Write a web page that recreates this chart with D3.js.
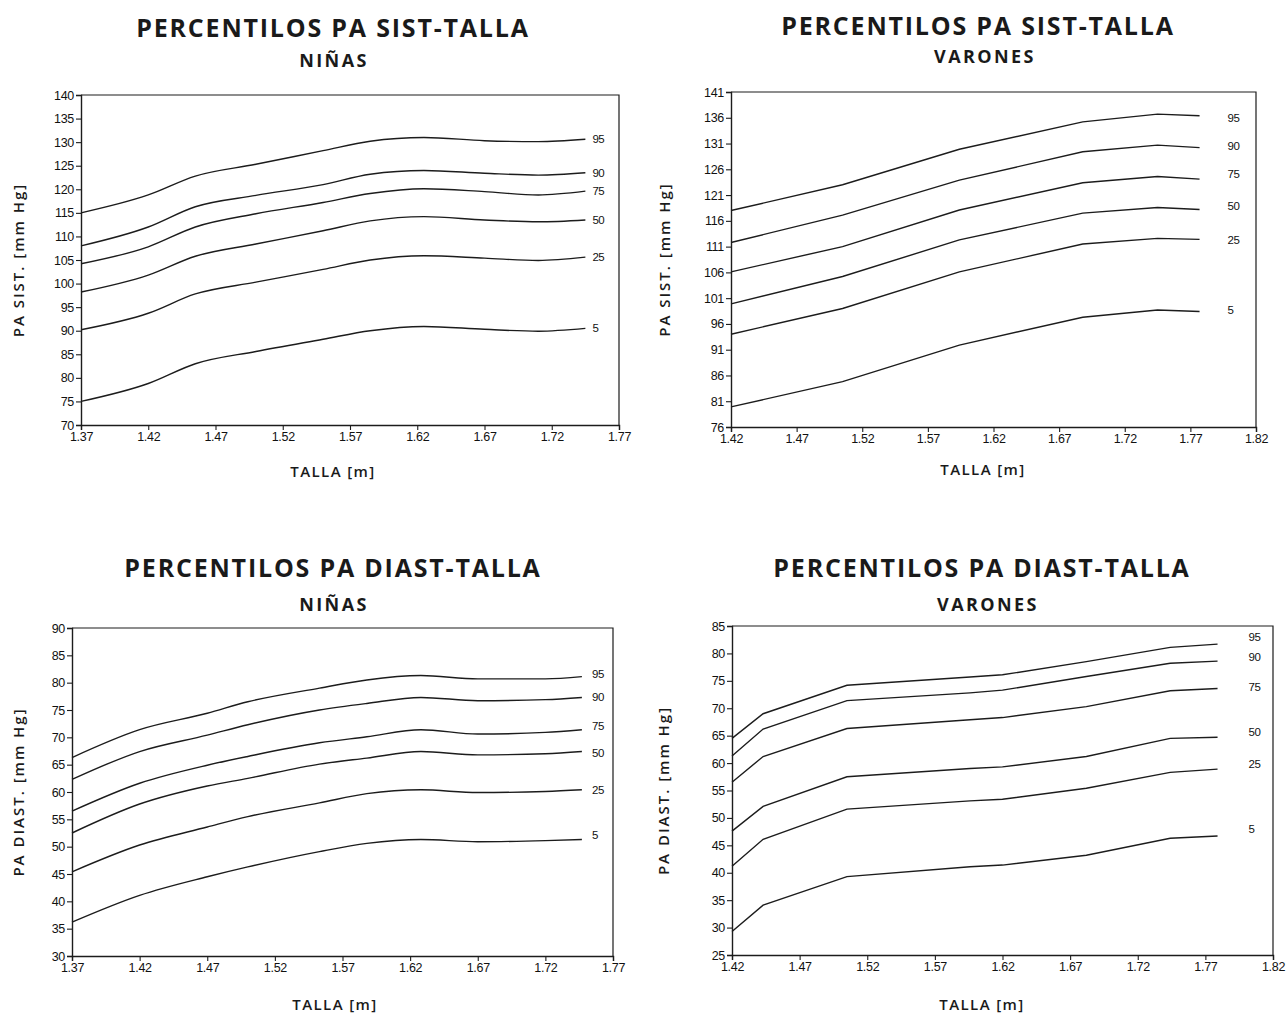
<!DOCTYPE html>
<html>
<head>
<meta charset="utf-8">
<script src="https://cdn.jsdelivr.net/npm/d3@7"></script>
<style>
  html, body { margin: 0; padding: 0; background: #fff; }
  svg { display: block; }
  .title { font-family: "Open Sans", sans-serif; font-weight: 700; fill: #1a1a1a; }
  .axis-title { font-family: "Open Sans", sans-serif; font-weight: 600; fill: #1a1a1a; }
  .tick text { font-family: "Liberation Sans", Arial, sans-serif; fill: #111; }
  .pct { font-family: "Liberation Sans", Arial, sans-serif; fill: #111; }
</style>
</head>
<body>
<script>
// Percentile labels, shared by all four charts (top to bottom)
const percentiles = ["95", "90", "75", "50", "25", "5"];

// Axis ticks
const ticksTallaNinas = [1.37, 1.42, 1.47, 1.52, 1.57, 1.62, 1.67, 1.72, 1.77];
const ticksTallaVarones = [1.42, 1.47, 1.52, 1.57, 1.62, 1.67, 1.72, 1.77, 1.82];
const ticksSistNinas = [70, 75, 80, 85, 90, 95, 100, 105, 110, 115, 120, 125, 130, 135, 140];
const ticksSistVarones = [76, 81, 86, 91, 96, 101, 106, 111, 116, 121, 126, 131, 136, 141];
const ticksDiastNinas = [30, 35, 40, 45, 50, 55, 60, 65, 70, 75, 80, 85, 90];
const ticksDiastVarones = [25, 30, 35, 40, 45, 50, 55, 60, 65, 70, 75, 80, 85];

// Systolic pressure, girls: heights (m) and one row per percentile (95 → 5)
const tallaSistNinas = [1.37, 1.42, 1.455, 1.50, 1.55, 1.585, 1.625, 1.67, 1.71, 1.745];
const sistNinas = [
  [115.0, 118.8, 122.8, 125.3, 128.2, 130.2, 131.0, 130.3, 130.1, 130.6],
  [108.0, 112.0, 116.3, 118.7, 121.0, 123.2, 124.0, 123.4, 123.0, 123.5],
  [104.2, 107.8, 112.0, 114.8, 117.2, 119.1, 120.1, 119.5, 118.8, 119.6],
  [98.2, 101.8, 105.8, 108.4, 111.2, 113.3, 114.2, 113.5, 113.1, 113.5],
  [90.2, 93.7, 97.8, 100.3, 103.0, 105.0, 105.9, 105.4, 104.9, 105.6],
  [75.0, 78.8, 83.0, 85.6, 88.2, 90.0, 90.9, 90.3, 89.9, 90.5]
];

// Systolic pressure, boys
const tallaSistVarones = [1.42, 1.505, 1.594, 1.688, 1.745, 1.777];
const sistVarones = [
  [118.0, 123.0, 129.9, 135.2, 136.7, 136.4],
  [111.8, 117.1, 123.9, 129.4, 130.7, 130.2],
  [106.1, 111.0, 118.1, 123.4, 124.6, 124.1],
  [99.9, 105.2, 112.3, 117.5, 118.6, 118.2],
  [94.0, 99.0, 106.1, 111.5, 112.6, 112.4],
  [79.9, 84.8, 91.9, 97.3, 98.7, 98.4]
];
const sistVaronesEtiquetas = [136.0, 130.6, 125.0, 118.8, 112.3, 98.8];

// Diastolic pressure, girls
const tallaDiastNinas = [1.37, 1.42, 1.47, 1.50, 1.553, 1.588, 1.628, 1.67, 1.72, 1.747];
const diastNinas = [
  [66.3, 71.4, 74.4, 76.5, 79.0, 80.5, 81.3, 80.7, 80.7, 81.1],
  [62.3, 67.4, 70.4, 72.3, 75.0, 76.2, 77.3, 76.7, 76.9, 77.3],
  [56.5, 61.6, 64.9, 66.5, 69.0, 70.1, 71.4, 70.6, 70.9, 71.4],
  [52.5, 57.8, 61.1, 62.5, 65.1, 66.2, 67.4, 66.8, 67.0, 67.4],
  [45.4, 50.3, 53.6, 55.5, 58.0, 59.7, 60.4, 59.9, 60.1, 60.4],
  [36.2, 41.1, 44.5, 46.3, 49.1, 50.6, 51.3, 50.9, 51.1, 51.3]
];
const diastNinasEtiquetas = [81.6, 77.3, 72.1, 67.2, 60.4, 52.1];

// Diastolic pressure, boys
const tallaDiastVarones = [1.42, 1.443, 1.505, 1.596, 1.62, 1.682, 1.744, 1.779];
const diastVarones = [
  [64.5, 69.0, 74.2, 75.7, 76.1, 78.5, 81.1, 81.7],
  [61.3, 66.2, 71.4, 72.8, 73.3, 75.8, 78.2, 78.6],
  [56.5, 61.2, 66.3, 67.9, 68.3, 70.3, 73.2, 73.6],
  [47.6, 52.1, 57.5, 59.0, 59.3, 61.2, 64.5, 64.7],
  [41.2, 46.1, 51.6, 53.1, 53.4, 55.4, 58.3, 58.9],
  [29.3, 34.1, 39.3, 41.1, 41.4, 43.2, 46.3, 46.7]
];
const diastVaronesEtiquetas = [83.0, 79.4, 73.8, 65.7, 59.8, 47.9];

const W = 1287, H = 1013;
const svg = d3.select("body").append("svg").attr("width", W).attr("height", H);

const panels = [
  {
    title: "PERCENTILOS PA SIST-TALLA", sub: "NIÑAS", yTitle: "PA SIST. [mm Hg]",
    x: tallaSistNinas, series: sistNinas, labels: null,
    xTicks: ticksTallaNinas, yTicks: ticksSistNinas,
    left: 81, right: 619, top: 95, bottom: 425,
    titleX: 333, subX: 334, titleY: 37, subY: 67, xTitleX: 333, xTitleY: 477, yTitleX: 24,
    labelDx: 7, curve: d3.curveMonotoneX
  },
  {
    title: "PERCENTILOS PA SIST-TALLA", sub: "VARONES", yTitle: "PA SIST. [mm Hg]",
    x: tallaSistVarones, series: sistVarones, labels: sistVaronesEtiquetas,
    xTicks: ticksTallaVarones, yTicks: ticksSistVarones,
    left: 731, right: 1256, top: 92, bottom: 427,
    titleX: 978, subX: 985, titleY: 35, subY: 63, xTitleX: 983, xTitleY: 475, yTitleX: 670,
    labelDx: 28, curve: d3.curveLinear
  },
  {
    title: "PERCENTILOS PA DIAST-TALLA", sub: "NIÑAS", yTitle: "PA DIAST. [mm Hg]",
    x: tallaDiastNinas, series: diastNinas, labels: diastNinasEtiquetas,
    xTicks: ticksTallaNinas, yTicks: ticksDiastNinas,
    left: 72, right: 613, top: 628, bottom: 956,
    titleX: 333, subX: 334, titleY: 577, subY: 611, xTitleX: 335, xTitleY: 1010, yTitleX: 24,
    labelDx: 10, curve: d3.curveMonotoneX
  },
  {
    title: "PERCENTILOS PA DIAST-TALLA", sub: "VARONES", yTitle: "PA DIAST. [mm Hg]",
    x: tallaDiastVarones, series: diastVarones, labels: diastVaronesEtiquetas,
    xTicks: ticksTallaVarones, yTicks: ticksDiastVarones,
    left: 732, right: 1273, top: 626, bottom: 955,
    titleX: 982, subX: 988, titleY: 577, subY: 611, xTitleX: 982, xTitleY: 1010, yTitleX: 669,
    labelDx: 31, curve: d3.curveLinear
  }
];

const ink = "#1c1c1c";

panels.forEach(p => {
  const g = svg.append("g");
  const xs = d3.scaleLinear()
    .domain([p.xTicks[0], p.xTicks[p.xTicks.length - 1]])
    .range([p.left, p.right]);
  const ys = d3.scaleLinear()
    .domain([p.yTicks[0], p.yTicks[p.yTicks.length - 1]])
    .range([p.bottom, p.top]);

  // Titles
  g.append("text").attr("class", "title")
    .attr("x", p.titleX).attr("y", p.titleY)
    .attr("text-anchor", "middle")
    .style("font-size", "25px").style("letter-spacing", "1.8px")
    .text(p.title);
  g.append("text").attr("class", "title")
    .attr("x", p.subX).attr("y", p.subY)
    .attr("text-anchor", "middle")
    .style("font-size", "18px").style("letter-spacing", "2.4px")
    .text(p.sub);

  // Frame: top and right borders
  g.append("path")
    .attr("d", `M${p.left},${p.top}H${p.right}V${p.bottom}`)
    .attr("fill", "none").attr("stroke", ink).attr("stroke-width", 1.2);

  // Axes
  const xAxis = d3.axisBottom(xs).tickValues(p.xTicks)
    .tickFormat(d3.format(".2f")).tickSize(5).tickPadding(2);
  const yAxis = d3.axisLeft(ys).tickValues(p.yTicks)
    .tickFormat(d3.format("d")).tickSize(5).tickPadding(2);

  const gx = g.append("g").attr("transform", `translate(0,${p.bottom})`).call(xAxis);
  const gy = g.append("g").attr("transform", `translate(${p.left},0)`).call(yAxis);
  [gx, gy].forEach(a => {
    a.select(".domain").attr("stroke", ink).attr("stroke-width", 1.4);
    a.selectAll(".tick line").attr("stroke", ink).attr("stroke-width", 1.1);
    a.selectAll(".tick text").style("font-size", "12.5px").style("letter-spacing", "-0.3px");
  });

  // Axis titles
  g.append("text").attr("class", "axis-title")
    .attr("x", p.xTitleX).attr("y", p.xTitleY)
    .attr("text-anchor", "middle")
    .style("font-size", "15px").style("letter-spacing", "1.4px")
    .text("TALLA [m]");
  g.append("text").attr("class", "axis-title")
    .attr("transform", `translate(${p.yTitleX},${(p.top + p.bottom) / 2}) rotate(-90)`)
    .attr("text-anchor", "middle")
    .style("font-size", "15px").style("letter-spacing", "2px")
    .text(p.yTitle);

  // Percentile curves
  const line = d3.line()
    .x((d, i) => xs(p.x[i]))
    .y(d => ys(d))
    .curve(p.curve);

  g.selectAll("path.pc").data(p.series).enter().append("path")
    .attr("class", "pc")
    .attr("d", line)
    .attr("fill", "none")
    .attr("stroke", ink)
    .attr("stroke-width", 1.4);

  // Percentile labels at the right end of each curve
  const xEnd = xs(p.x[p.x.length - 1]) + p.labelDx;
  g.selectAll("text.pct").data(percentiles).enter().append("text")
    .attr("class", "pct")
    .attr("x", xEnd)
    .attr("y", (d, i) => ys(p.labels ? p.labels[i] : p.series[i][p.series[i].length - 1]))
    .attr("dy", "0.35em")
    .style("font-size", "11.5px")
    .style("letter-spacing", "-0.4px")
    .text(d => d);
});
</script>
</body>
</html>
